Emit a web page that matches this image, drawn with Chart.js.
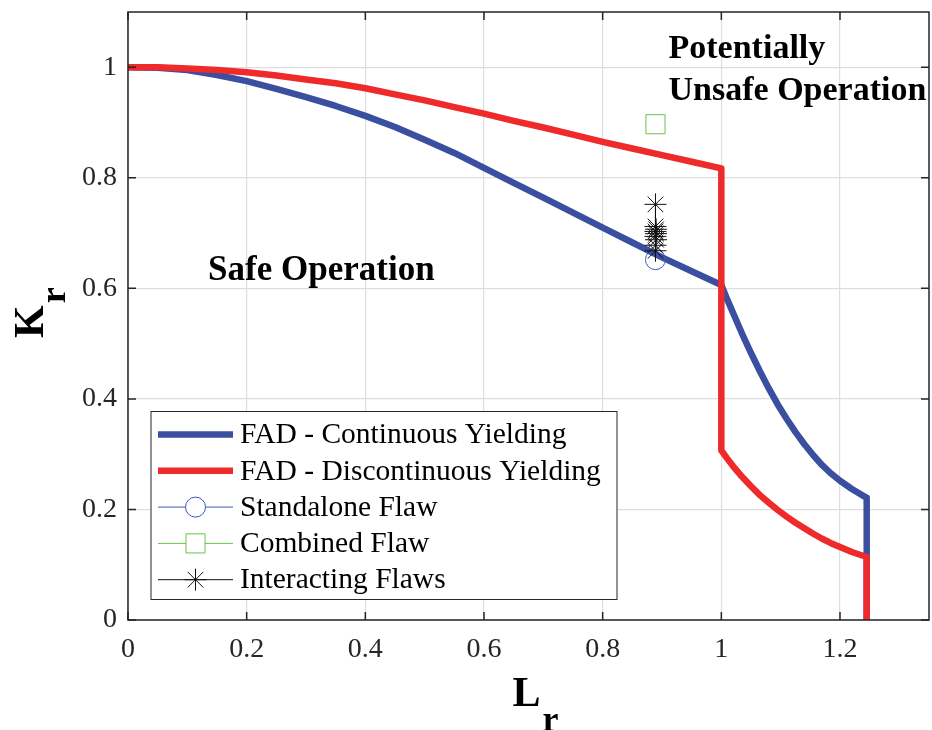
<!DOCTYPE html>
<html>
<head>
<meta charset="utf-8">
<script src="https://cdn.jsdelivr.net/npm/chart.js@4/dist/chart.umd.min.js"></script>
<style>
  body { margin: 0; background: #fff; }
  canvas { display: block; }
</style>
</head>
<body>
<canvas id="fadChart" width="932" height="730"></canvas>
<script>
// FAD - continuous yielding (blue)
const blueLr = [0, 0.05, 0.1, 0.15, 0.2, 0.25, 0.3, 0.35, 0.4, 0.45, 0.5, 0.55, 0.6, 0.65, 0.7, 0.75, 0.8, 0.85, 0.9, 0.95, 1.0,
                1.01, 1.02, 1.035, 1.05, 1.065, 1.08, 1.095, 1.11, 1.125, 1.14, 1.155, 1.17, 1.185, 1.2, 1.22, 1.245, 1.245];
const blueKr = [1.0, 0.999, 0.995, 0.986, 0.975, 0.961, 0.946, 0.93, 0.912, 0.892, 0.869, 0.845, 0.818, 0.791, 0.764, 0.737, 0.71, 0.683, 0.656, 0.631, 0.606,
                0.58, 0.555, 0.518, 0.483, 0.45, 0.419, 0.39, 0.364, 0.34, 0.318, 0.298, 0.28, 0.265, 0.252, 0.237, 0.221, 0];

// FAD - discontinuous yielding (red)
const redLr = [0, 0.05, 0.1, 0.15, 0.2, 0.25, 0.3, 0.35, 0.4, 0.45, 0.5, 0.55, 0.6, 0.65, 0.7, 0.75, 0.8, 0.85, 0.9, 0.95, 1.0,
               1.0, 1.01, 1.02, 1.035, 1.05, 1.065, 1.08, 1.095, 1.11, 1.125, 1.14, 1.155, 1.17, 1.185, 1.2, 1.22, 1.245, 1.245];
const redKr = [1.0, 1.0, 0.998, 0.995, 0.991, 0.985, 0.978, 0.971, 0.962, 0.951, 0.94, 0.928, 0.916, 0.903, 0.891, 0.878, 0.865, 0.853, 0.841, 0.829, 0.817,
               0.307, 0.292, 0.278, 0.259, 0.242, 0.226, 0.212, 0.199, 0.187, 0.176, 0.166, 0.156, 0.147, 0.139, 0.132, 0.123, 0.114, 0];

// flaw assessment points
const standaloneLr = [0.889];
const standaloneKr = [0.652];
const combinedLr = [0.889];
const combinedKr = [0.897];
const interactLr = [0.889, 0.889, 0.89, 0.889, 0.89, 0.889, 0.89, 0.889, 0.889];
const interactKr = [0.752, 0.712, 0.707, 0.703, 0.699, 0.694, 0.688, 0.678, 0.668];

// axes
const xTickValues = [0, 0.2, 0.4, 0.6, 0.8, 1, 1.2];
const xTickLabels = ['0', '0.2', '0.4', '0.6', '0.8', '1', '1.2'];
const yTickValues = [0, 0.2, 0.4, 0.6, 0.8, 1];
const yTickLabels = ['0', '0.2', '0.4', '0.6', '0.8', '1'];

const seriesNames = ['FAD - Continuous Yielding', 'FAD - Discontinuous Yielding', 'Standalone Flaw', 'Combined Flaw', 'Interacting Flaws'];

const toPoints = (xs, ys) => xs.map((x, i) => ({ x: x, y: ys[i] }));

const BLUE = '#3a4fa0';
const RED = '#ee2a2a';
const TEXT = '#262626';
const SERIF = '"Liberation Serif", "Times New Roman", serif';

// Box, inward ticks, axis titles, region labels and the legend
const decorPlugin = {
    id: 'decor',
    afterDraw(chart) {
        const ctx = chart.ctx;
        const a = chart.chartArea;
        const xs = chart.scales.x;
        const ys = chart.scales.y;
        ctx.save();

        // axes box
        ctx.strokeStyle = TEXT;
        ctx.lineWidth = 1.5;
        ctx.strokeRect(a.left, a.top, a.right - a.left, a.bottom - a.top);

        // inward tick marks on all four sides
        const tl = 8;
        ctx.beginPath();
        xTickValues.forEach(v => {
            const px = xs.getPixelForValue(v);
            ctx.moveTo(px, a.bottom); ctx.lineTo(px, a.bottom - tl);
            ctx.moveTo(px, a.top); ctx.lineTo(px, a.top + tl);
        });
        yTickValues.forEach(v => {
            const py = ys.getPixelForValue(v);
            ctx.moveTo(a.left, py); ctx.lineTo(a.left + tl, py);
            ctx.moveTo(a.right, py); ctx.lineTo(a.right - tl, py);
        });
        ctx.stroke();

        // region labels
        ctx.fillStyle = '#000';
        ctx.font = 'bold 35px ' + SERIF;
        ctx.textAlign = 'left';
        ctx.textBaseline = 'alphabetic';
        ctx.fillText('Safe Operation', xs.getPixelForValue(0.135), ys.getPixelForValue(0.615));
        ctx.font = 'bold 34px ' + SERIF;
        ctx.fillText('Potentially', xs.getPixelForValue(0.911), ys.getPixelForValue(1.016));
        ctx.fillText('Unsafe Operation', xs.getPixelForValue(0.911), ys.getPixelForValue(0.94));

        // x title  L_r
        const midX = (a.left + a.right) / 2;
        ctx.font = 'bold 42px ' + SERIF;
        const wL = ctx.measureText('L').width;
        const x0 = midX - 16;
        ctx.fillText('L', x0, 706);
        ctx.font = 'bold 36px ' + SERIF;
        ctx.fillText('r', x0 + wL + 2, 731);

        // y title  K_r (rotated)
        const midY = (a.top + a.bottom) / 2;
        ctx.translate(43, midY + 22);
        ctx.rotate(-Math.PI / 2);
        ctx.font = 'bold 42px ' + SERIF;
        const wK = ctx.measureText('K').width;
        ctx.fillText('K', 0, 0);
        ctx.font = 'bold 36px ' + SERIF;
        ctx.fillText('r', wK + 2, 22);
        ctx.setTransform(1, 0, 0, 1, 0, 0);

        // legend
        const lx = a.left + 23, ly = 411.5, lw = 466, lh = 188;
        ctx.fillStyle = '#fff';
        ctx.fillRect(lx, ly, lw, lh);
        ctx.strokeStyle = TEXT;
        ctx.lineWidth = 1;
        ctx.strokeRect(lx, ly, lw, lh);
        const rowH = 36.3;
        ctx.font = '29.5px ' + SERIF;
        ctx.textBaseline = 'middle';
        chart.data.datasets.forEach((ds, i) => {
            const cy = ly + 23 + i * rowH;
            ctx.strokeStyle = ds.borderColor;
            ctx.lineWidth = ds.borderWidth;
            ctx.beginPath();
            ctx.moveTo(lx + 7, cy);
            ctx.lineTo(lx + 82, cy);
            ctx.stroke();
            if (ds.pointRadius > 0) {
                ctx.strokeStyle = ds.pointBorderColor;
                ctx.fillStyle = '#fff';
                ctx.lineWidth = ds.pointBorderWidth;
                Chart.helpers.drawPoint(ctx, {
                    pointStyle: ds.pointStyle, rotation: 0,
                    radius: ds.pointRadius, borderWidth: ds.pointBorderWidth
                }, lx + 44.5, cy);
            }
            ctx.fillStyle = '#000';
            ctx.fillText(seriesNames[i], lx + 89, cy + 1);
        });
        ctx.restore();
    }
};

const ctx = document.getElementById('fadChart').getContext('2d');
new Chart(ctx, {
    type: 'scatter',
    data: {
        datasets: [
            {
                label: seriesNames[0],
                data: toPoints(blueLr, blueKr),
                showLine: true, borderColor: BLUE, borderWidth: 6.5,
                pointRadius: 0, tension: 0, order: 5,
                borderJoinStyle: 'round'
            },
            {
                label: seriesNames[1],
                data: toPoints(redLr, redKr),
                showLine: true, borderColor: RED, borderWidth: 6.5,
                pointRadius: 0, tension: 0, order: 4,
                borderJoinStyle: 'round'
            },
            {
                label: seriesNames[2],
                data: toPoints(standaloneLr, standaloneKr),
                showLine: true, borderColor: '#3a5bb8', borderWidth: 1,
                pointStyle: 'circle', pointRadius: 10, pointBorderWidth: 1,
                pointBorderColor: '#3a5bb8', pointBackgroundColor: 'rgba(0,0,0,0)', order: 3
            },
            {
                label: seriesNames[3],
                data: toPoints(combinedLr, combinedKr),
                showLine: true, borderColor: '#6cc04a', borderWidth: 1,
                pointStyle: 'rect', pointRadius: 13.5, pointBorderWidth: 1,
                pointBorderColor: '#6cc04a', pointBackgroundColor: 'rgba(0,0,0,0)', order: 2
            },
            {
                label: seriesNames[4],
                data: toPoints(interactLr, interactKr),
                showLine: true, borderColor: '#111', borderWidth: 1,
                pointStyle: 'star', pointRadius: 11, pointBorderWidth: 1,
                pointBorderColor: '#111', pointBackgroundColor: 'rgba(0,0,0,0)', order: 1
            }
        ]
    },
    options: {
        responsive: false,
        animation: false,
        layout: { autoPadding: false, padding: { top: 12, right: 3, left: 0, bottom: 0 } },
        plugins: {
            legend: { display: false },
            tooltip: { enabled: false }
        },
        scales: {
            x: {
                type: 'linear', min: 0, max: 1.35,
                afterBuildTicks: axis => { axis.ticks = xTickValues.map(v => ({ value: v })); },
                afterFit: scale => {
                    scale.height = 110;
                    scale.paddingLeft = 0;
                    scale.paddingRight = 0;
                },
                grid: { color: '#dedede', lineWidth: 1.2, drawTicks: false },
                border: { display: false },
                ticks: {
                    padding: 13, color: TEXT, maxRotation: 0,
                    font: { family: SERIF, size: 28 },
                    callback: (v, i) => xTickLabels[i]
                }
            },
            y: {
                type: 'linear', min: 0, max: 1.1,
                afterBuildTicks: axis => { axis.ticks = yTickValues.map(v => ({ value: v })); },
                afterFit: scale => {
                    scale.width = 128;
                    scale.paddingTop = 0;
                    scale.paddingBottom = 0;
                },
                grid: { color: '#dedede', lineWidth: 1.2, drawTicks: false },
                border: { display: false },
                ticks: {
                    padding: 11, color: TEXT,
                    font: { family: SERIF, size: 28 },
                    callback: (v, i) => yTickLabels[i]
                }
            }
        }
    },
    plugins: [decorPlugin]
});
</script>
</body>
</html>
